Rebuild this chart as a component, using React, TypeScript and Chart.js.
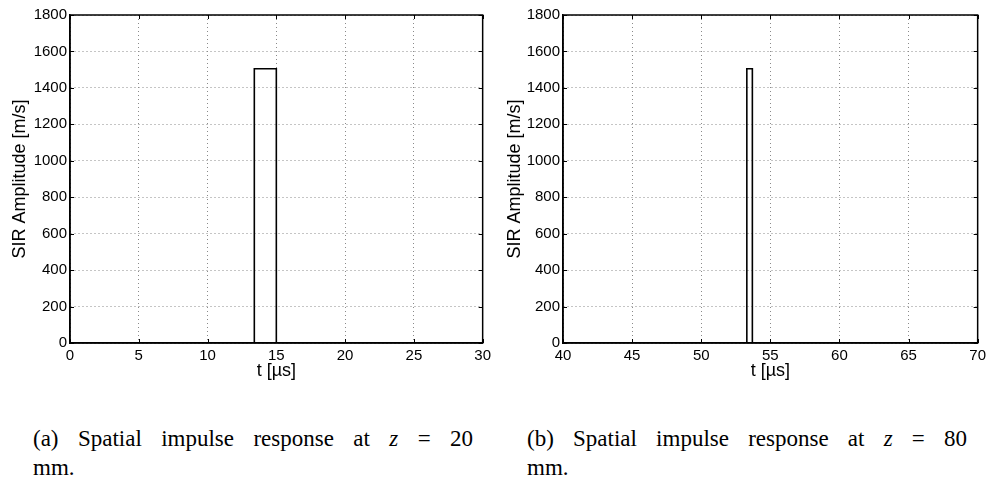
import React, { useEffect, useRef } from "react";
import { Chart, registerables } from "chart.js";
Chart.register(...registerables);

// ---- data ----
const timeA = [0, 13.4, 13.4, 15.0, 15.0, 30];
const sirA = [0, 0, 1505, 1505, 0, 0];
const timeB = [40, 53.3, 53.3, 53.7, 53.7, 70];
const sirB = [0, 0, 1505, 1505, 0, 0];
const xRangeA = [0, 30];
const xRangeB = [40, 70];
const yRange = [0, 1800];
const xStep = 5;
const yStep = 200;
const yTitle = "SIR Amplitude [m/s]";
const xTitle = "t [µs]";
const captionA = ["(a) Spatial impulse response at ", "z", " = 20", "mm."];
const captionB = ["(b) Spatial impulse response at ", "z", " = 80", "mm."];

const SANS = "'Liberation Sans', Arial, Helvetica, sans-serif";
const SERIF = "'Liberation Serif', 'Times New Roman', serif";

const boxPlugin = {
  id: "boxTicks",
  afterDraw(chart: any) {
    const { ctx, chartArea: a, scales } = chart;
    ctx.save();
    ctx.strokeStyle = "#000";
    ctx.lineWidth = 1;
    ctx.setLineDash([]);
    const L = 4;
    ctx.beginPath();
    scales.x.ticks.forEach((t: any) => {
      const p = Math.round(scales.x.getPixelForValue(t.value)) + 0.5;
      ctx.moveTo(p, a.bottom);
      ctx.lineTo(p, a.bottom - L);
      ctx.moveTo(p, a.top);
      ctx.lineTo(p, a.top + L);
    });
    scales.y.ticks.forEach((t: any) => {
      const p = Math.round(scales.y.getPixelForValue(t.value)) + 0.5;
      ctx.moveTo(a.left, p);
      ctx.lineTo(a.left + L, p);
      ctx.moveTo(a.right, p);
      ctx.lineTo(a.right - L, p);
    });
    ctx.stroke();
    ctx.lineWidth = 1.5;
    ctx.strokeRect(a.left, a.top, a.right - a.left, a.bottom - a.top);
    ctx.restore();
  },
};

function SirChart({ t, v, xr, padRight, leftW }: { t: number[]; v: number[]; xr: number[]; padRight: number; leftW: number }) {
  const ref = useRef<HTMLCanvasElement | null>(null);
  useEffect(() => {
    if (!ref.current) return;
    const chart = new Chart(ref.current, {
      type: "line",
      data: {
        datasets: [
          {
            data: t.map((x, i) => ({ x, y: v[i] })),
            borderColor: "#000",
            borderWidth: 1.6,
            pointRadius: 0,
            fill: false,
            tension: 0,
          },
        ],
      },
      options: {
        animation: false,
        responsive: false,
        maintainAspectRatio: false,
        plugins: { legend: { display: false }, tooltip: { enabled: false } },
        layout: { padding: { top: 15, right: padRight, left: 0, bottom: 0 } },
        scales: {
          x: {
            type: "linear",
            min: xr[0],
            max: xr[1],
            ticks: {
              stepSize: xStep,
              color: "#000",
              font: { family: SANS, size: 15 },
              padding: 4,
              maxRotation: 0,
              callback: (val: any) => String(val),
            },
            grid: { color: "#8a8a8a", lineWidth: 1, drawTicks: false },
            border: { display: true, color: "#000", width: 1.5, dash: [1, 3] },
            title: { display: true, text: xTitle, color: "#000", font: { family: SANS, size: 18 }, padding: { top: 0, bottom: 8 } },
            afterFit: (s: any) => {
              s.height = 47;
            },
          },
          y: {
            type: "linear",
            min: yRange[0],
            max: yRange[1],
            ticks: {
              stepSize: yStep,
              color: "#000",
              font: { family: SANS, size: 15 },
              padding: 3,
              callback: (val: any) => String(val),
            },
            grid: { color: "#8a8a8a", lineWidth: 1, drawTicks: false },
            border: { display: true, color: "#000", width: 1.5, dash: [1, 3] },
            title: { display: true, text: yTitle, color: "#000", font: { family: SANS, size: 18 }, padding: { top: 9, bottom: 0 } },
            afterFit: (s: any) => {
              s.width = leftW;
            },
          },
        },
      },
      plugins: [boxPlugin],
    } as any);
    return () => chart.destroy();
  }, []);
  return <canvas ref={ref} width={495} height={390} style={{ display: "block", width: 495, height: 390 }} />;
}

function Caption({ parts, left }: { parts: string[]; left: number }) {
  return (
    <div style={{ position: "absolute", left, top: 424, width: 440, fontFamily: SERIF, fontSize: 23, lineHeight: "29px", color: "#000" }}>
      <div style={{ textAlign: "justify", textAlignLast: "justify" } as any}>
        {parts[0]}
        <i>{parts[1]}</i>
        {parts[2]}
      </div>
      <div>{parts[3]}</div>
    </div>
  );
}

export default function App() {
  return (
    <div style={{ position: "absolute", left: 0, top: 0, width: 990, height: 480, background: "#fff", overflow: "hidden" }}>
      <div style={{ position: "absolute", left: 0, top: 0 }}>
        <SirChart t={timeA} v={sirA} xr={xRangeA} padRight={8} leftW={70} />
      </div>
      <div style={{ position: "absolute", left: 495, top: 0 }}>
        <SirChart t={timeB} v={sirB} xr={xRangeB} padRight={10} leftW={68} />
      </div>
      <Caption parts={captionA} left={33} />
      <Caption parts={captionB} left={527} />
    </div>
  );
}
